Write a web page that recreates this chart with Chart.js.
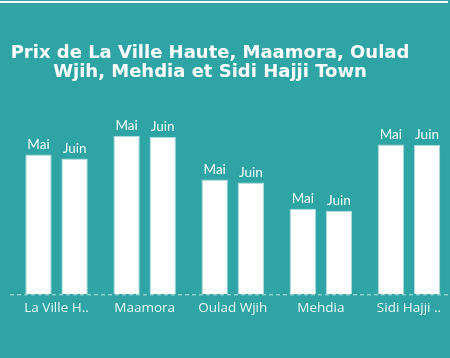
<!DOCTYPE html>
<html><head><meta charset="utf-8">
<script src="https://cdn.jsdelivr.net/npm/chart.js@4"></script>
<style>
html,body{margin:0;padding:0;background:#2fa4a4;overflow:hidden;}
#wrap{position:relative;width:450px;height:358px;background:#2fa4a4;overflow:hidden;}
#topline{position:absolute;left:0;top:1px;width:448px;height:2px;background:#fff;z-index:2;}
canvas{position:absolute;left:0;top:0;}
</style></head>
<body>
<div id="wrap"><div id="topline"></div><canvas id="c" width="453" height="358"></canvas></div>
<script>
const categories = ["La Ville H..", "Maamora", "Oulad Wjih", "Mehdia", "Sidi Hajji .."];
const seriesNames = ["Mai", "Juin"];
const maiValues = [13950, 15800, 11450, 8550, 14950];
const juinValues = [13550, 15700, 11150, 8350, 14900];
const titleLines = ["Prix de La Ville Haute, Maamora, Oulad", "Wjih, Mehdia et Sidi Hajji Town"];

const titlePlugin = {
  id: 'customTitle',
  afterDraw(chart) {
    const ctx = chart.ctx;
    ctx.save();
    ctx.font = 'bold 18px "DejaVu Sans"';
    ctx.fillStyle = '#ffffff';
    ctx.textAlign = 'center';
    ctx.textBaseline = 'middle';
    titleLines.forEach((t, i) => ctx.fillText(t, 210, 53 + i * 19.5));
    ctx.restore();
  }
};

const baselinePlugin = {
  id: 'baseline',
  beforeDatasetsDraw(chart) {
    const ctx = chart.ctx;
    const y = chart.scales.y.getPixelForValue(0) + 0.5;
    ctx.save();
    ctx.strokeStyle = 'rgba(215,238,238,0.85)';
    ctx.lineWidth = 1;
    ctx.setLineDash([4, 3]);
    ctx.beginPath();
    ctx.moveTo(10, y);
    ctx.lineTo(453, y);
    ctx.stroke();
    ctx.restore();
  }
};

const labelPlugin = {
  id: 'seriesLabels',
  afterDatasetsDraw(chart) {
    const ctx = chart.ctx;
    ctx.save();
    ctx.font = '13.5px Lato';
    ctx.fillStyle = '#f4fbfb';
    ctx.textAlign = 'center';
    ctx.textBaseline = 'alphabetic';
    chart.data.datasets.forEach((ds, i) => {
      chart.getDatasetMeta(i).data.forEach(bar => {
        ctx.fillText(ds.label, bar.x, bar.y - 6);
      });
    });
    ctx.restore();
  }
};

new Chart(document.getElementById('c'), {
  type: 'bar',
  data: {
    labels: categories,
    datasets: [
      {label: seriesNames[0], data: maiValues, backgroundColor: '#ffffff', borderColor: 'rgba(255,255,255,0.6)', borderWidth: 1},
      {label: seriesNames[1], data: juinValues, backgroundColor: '#ffffff', borderColor: 'rgba(255,255,255,0.6)', borderWidth: 1}
    ]
  },
  options: {
    responsive: false,
    animation: false,
    layout: {padding: {left: 12.5, right: 0, top: 114, bottom: 35.5}},
    categoryPercentage: 0.82,
    barPercentage: 0.73,
    plugins: {
      legend: {display: false},
      tooltip: {enabled: false},
      title: {display: false}
    },
    scales: {
      x: {
        grid: {display: false, drawTicks: false},
        border: {display: false},
        ticks: {color: '#e8f6f6', font: {family: 'Open Sans', size: 13.5}, padding: 6, maxRotation: 0, autoSkip: false}
      },
      y: {display: false, min: 0, max: 18000}
    }
  },
  plugins: [baselinePlugin, labelPlugin, titlePlugin]
});
</script>
</body></html>
